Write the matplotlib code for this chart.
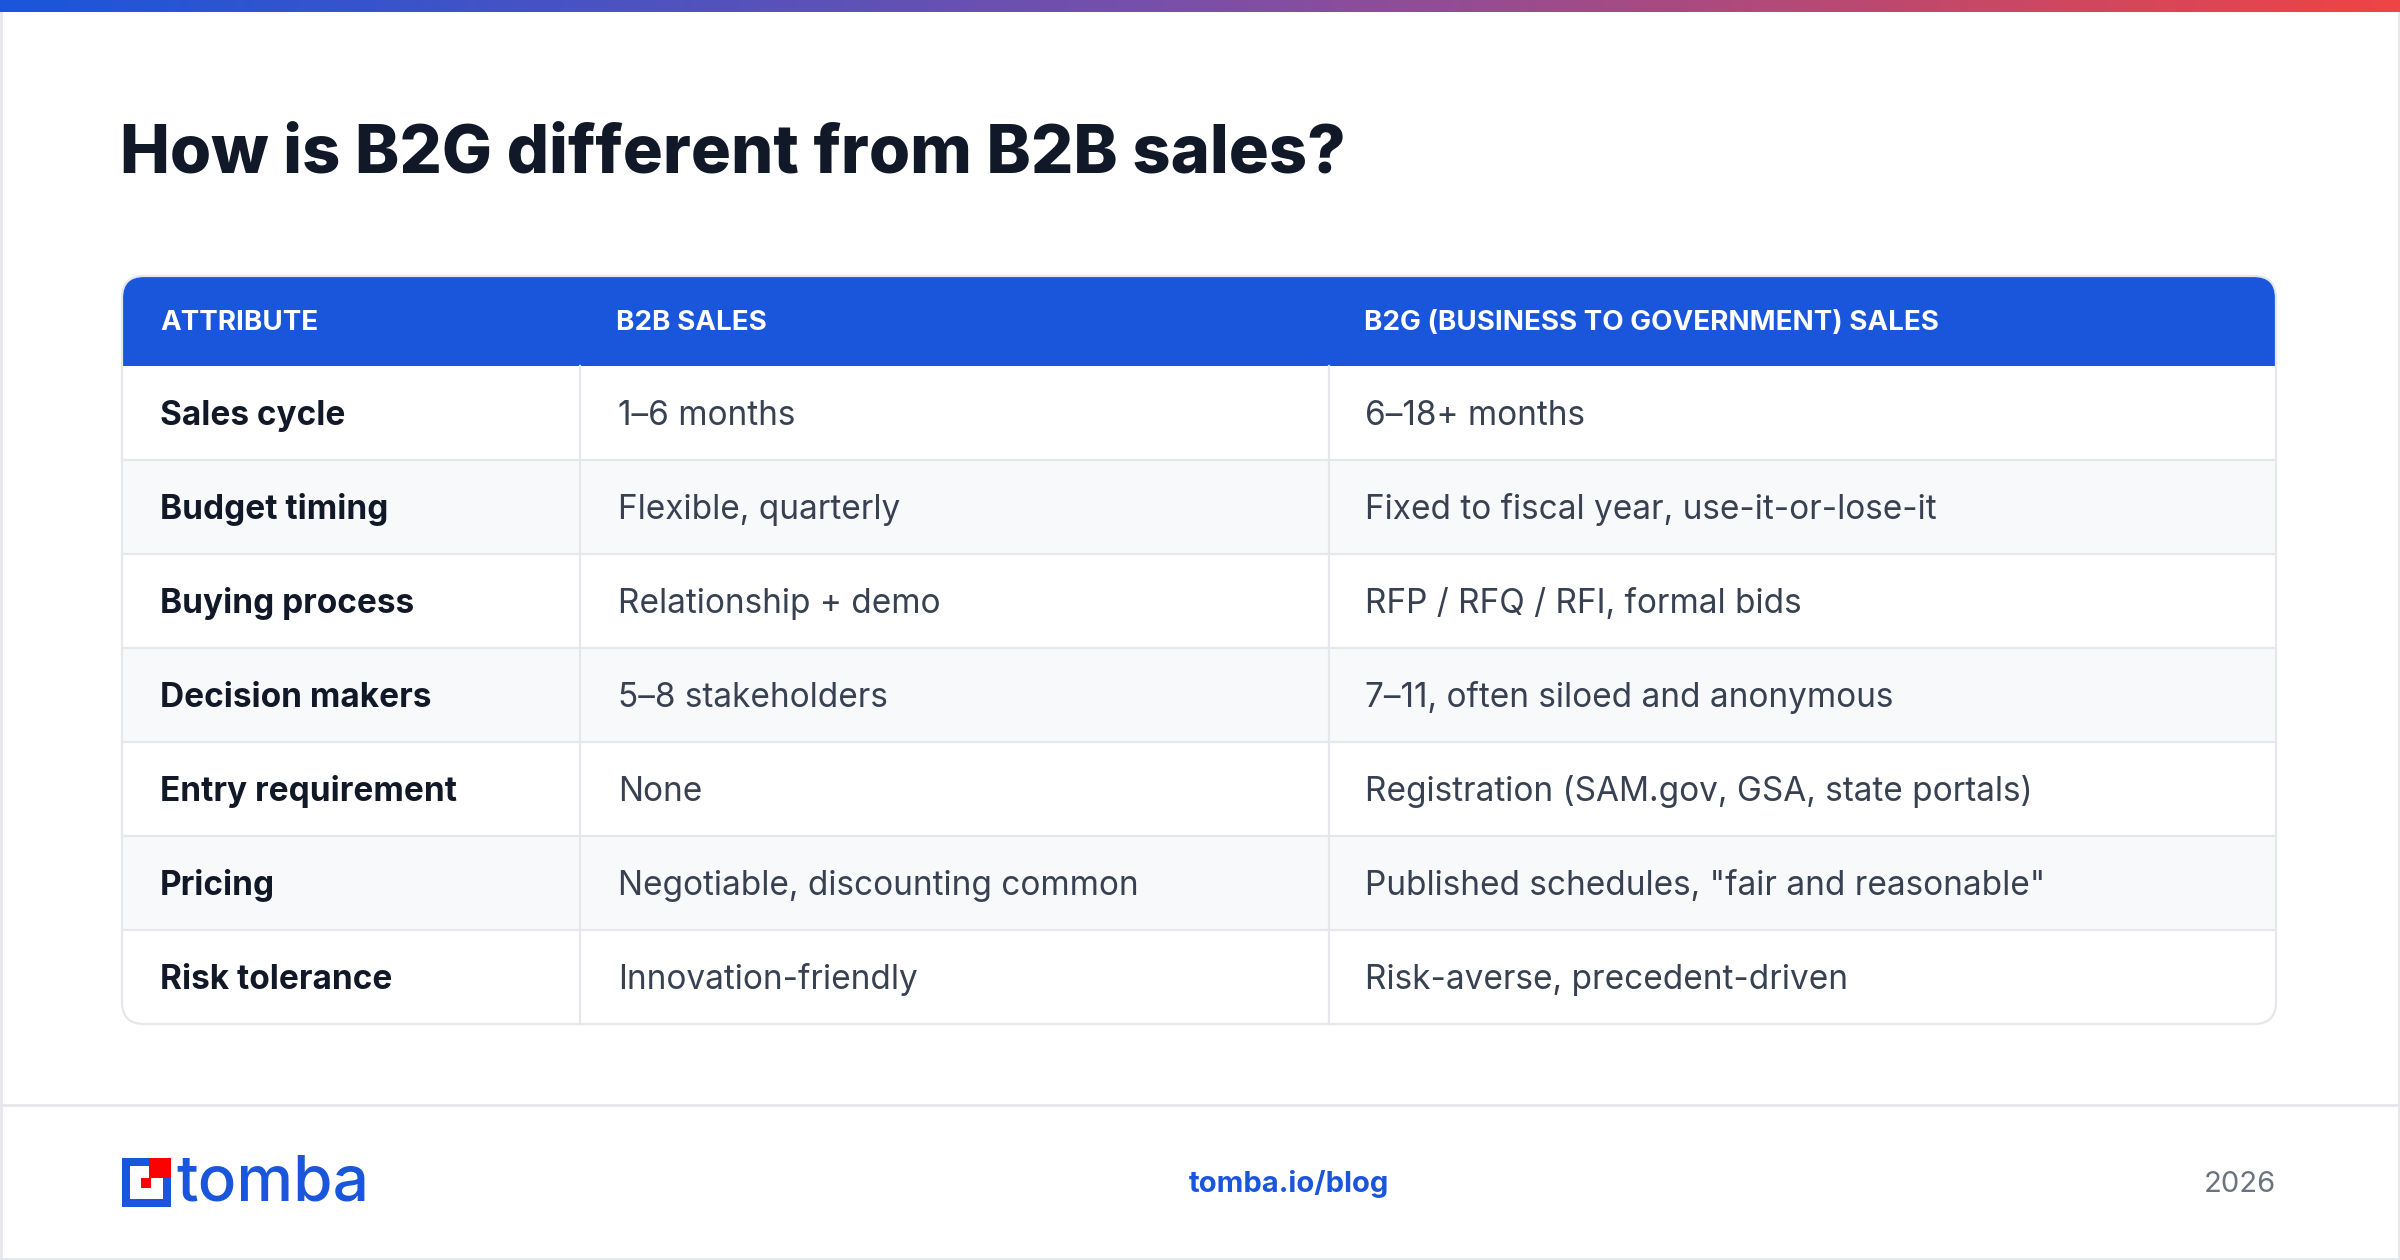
import matplotlib
matplotlib.use("Agg")
import matplotlib.pyplot as plt
import numpy as np
from matplotlib.patches import Rectangle, FancyBboxPatch
from matplotlib.colors import LinearSegmentedColormap

title = "How is B2G different from B2B sales?"
headers = ["ATTRIBUTE", "B2B SALES", "B2G (BUSINESS TO GOVERNMENT) SALES"]
attributes = ["Sales cycle", "Budget timing", "Buying process", "Decision makers",
              "Entry requirement", "Pricing", "Risk tolerance"]
b2b = ["1–6 months", "Flexible, quarterly", "Relationship + demo", "5–8 stakeholders",
       "None", "Negotiable, discounting common", "Innovation-friendly"]
b2g = ["6–18+ months", "Fixed to fiscal year, use-it-or-lose-it", "RFP / RFQ / RFI, formal bids",
       "7–11, often siloed and anonymous", "Registration (SAM.gov, GSA, state portals)",
       "Published schedules, \"fair and reasonable\"", "Risk-averse, precedent-driven"]
footer_mid = "tomba.io/blog"
footer_right = "2026"

plt.rcParams['font.family'] = ['Inter', 'DejaVu Sans']
W, H = 2400, 1260
fig = plt.figure(figsize=(24, 12.6), dpi=100)
ax = fig.add_axes([0, 0, 1, 1])
ax.set_xlim(0, W); ax.set_ylim(H, 0); ax.axis('off')

ax.add_patch(Rectangle((1, 1), W-2, H-2, fill=False, ec='#e5e7eb', lw=2))
grad = np.linspace(0, 1, 256)[None, :]
cm = LinearSegmentedColormap.from_list('g', ['#1a56db', '#7b4fa8', '#ef4444'])
ax.imshow(grad, cmap=cm, extent=(0, W, 12, 0), aspect='auto', zorder=5)
ax.set_xlim(0, W); ax.set_ylim(H, 0)

ax.text(120, 155, title, fontsize=48, fontweight='heavy', color='#111827', va='center', ha='left')

L, R, T = 122, 2276, 276
hdr_b = 366
row_h = 94
B = hdr_b + row_h * len(attributes)
cols = [L, 580, 1329, R]
rad = 22

clip = FancyBboxPatch((L, T), R-L, B-T, boxstyle=f"round,pad=0,rounding_size={rad}",
                      fc='none', ec='none')
ax.add_patch(clip)
hdr = Rectangle((L, T), R-L, hdr_b-T, fc='#1a56db', ec='none', zorder=1)
ax.add_patch(hdr); hdr.set_clip_path(clip)
for i, (a, b, g) in enumerate(zip(attributes, b2b, b2g)):
    y0 = hdr_b + i*row_h
    fc = '#ffffff' if i % 2 == 0 else '#f8f9fb'
    r = Rectangle((L, y0), R-L, row_h, fc=fc, ec='none', zorder=1)
    ax.add_patch(r); r.set_clip_path(clip)
    if i > 0:
        ax.plot([L, R], [y0, y0], color='#e5e7eb', lw=1.6, zorder=2)
    yc = y0 + row_h/2 + 3
    ax.text(cols[0]+38, yc, a, fontsize=24, fontweight='bold', color='#111827', va='center', zorder=3)
    ax.text(cols[1]+38, yc, b, fontsize=24, color='#374151', va='center', zorder=3)
    ax.text(cols[2]+36, yc, g, fontsize=24, color='#374151', va='center', zorder=3)
for x in cols[1:3]:
    ax.plot([x, x], [hdr_b, B], color='#e5e7eb', lw=1.6, zorder=2)
ax.add_patch(FancyBboxPatch((L, T), R-L, B-T, boxstyle=f"round,pad=0,rounding_size={rad}",
                            fc='none', ec='#e5e7eb', lw=1.6, zorder=4))
hy = (T + hdr_b)/2 + 2
for x, h in zip([cols[0]+38, cols[1]+36, cols[2]+35], headers):
    ax.text(x, hy, h, fontsize=20, fontweight='bold', color='white', va='center', zorder=3)

ax.plot([0, W], [1105, 1105], color='#e5e7eb', lw=2)
fy = 1184
ax.text(1289, fy, footer_mid, fontsize=21, fontweight='bold', color='#1a56db', ha='center', va='center')
ax.text(R, fy, footer_right, fontsize=21, color='#6b7280', ha='right', va='center')
blue, red = '#1a56db', '#ff0000'
ax.add_patch(Rectangle((122, 1158), 49, 49, fc=blue, ec='none'))
ax.add_patch(Rectangle((130, 1166), 33, 33, fc='white', ec='none'))
ax.add_patch(Rectangle((149, 1158), 22, 20, fc=red, ec='none'))
ax.add_patch(Rectangle((141, 1178), 10, 10, fc=red, ec='none'))
ax.text(176, 1184, "tomba", fontsize=46, color=blue, va='center', ha='left', fontweight='medium')
fig.savefig("out.png", dpi=100)
